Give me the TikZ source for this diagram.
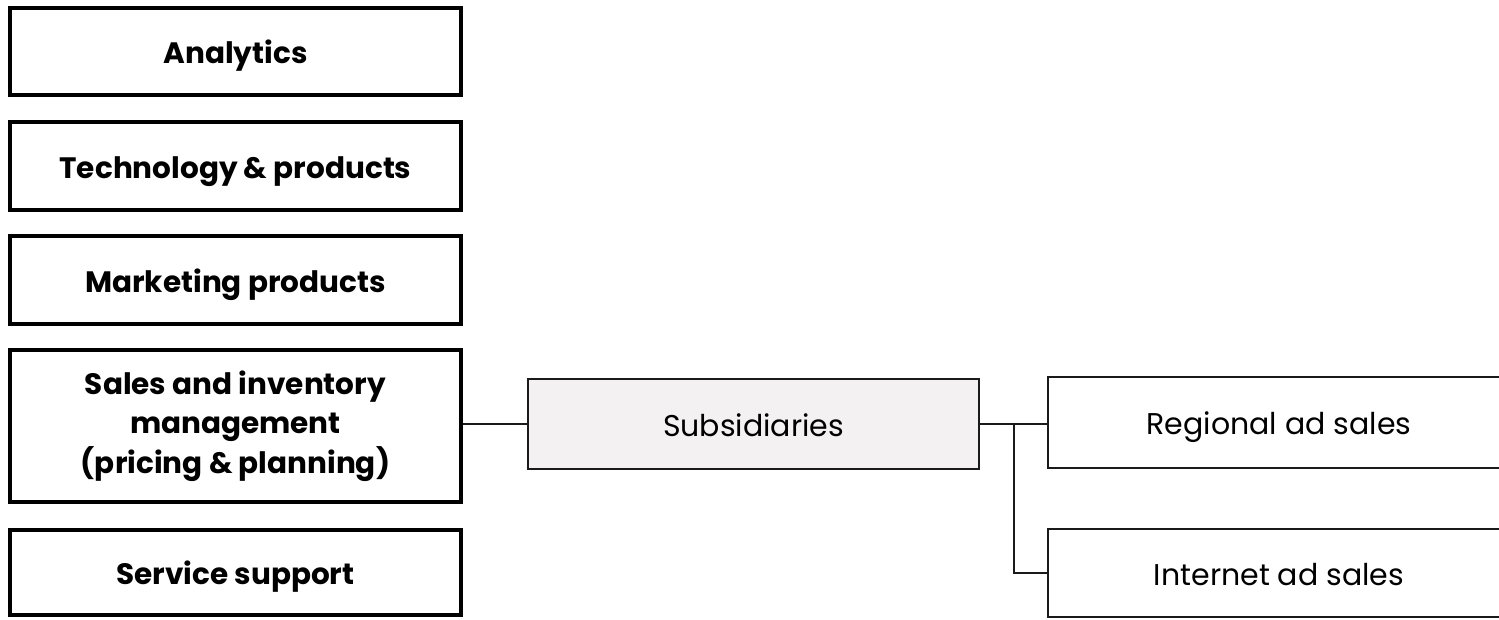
\documentclass[tikz,border=0pt]{standalone}
\usepackage{fontspec}
\setmainfont{Poppins}
\definecolor{subfill}{HTML}{F3F1F2}
\definecolor{edge}{HTML}{1A1A1A}
\begin{document}
\begin{tikzpicture}[x=1pt,y=-1pt,
  leftbox/.style={draw=black,line width=4.5pt,minimum width=451pt,inner sep=0pt,align=center,font=\fontsize{29.5}{39.5}\selectfont\bfseries},
  oneline/.style={text height=24.5pt,text depth=0pt},
  subbox/.style={draw=edge,line width=2pt,fill=subfill,minimum width=451pt,minimum height=90pt,inner sep=0pt,font=\fontsize{30}{38}\selectfont,oneline},
  rightbox/.style={draw=edge,line width=2pt,fill=white,minimum width=462pt,inner sep=0pt,font=\fontsize{30}{38}\selectfont,oneline},
  conn/.style={draw=edge,line width=2pt}]
\useasboundingbox (0,0) rectangle (1499,620);
\clip (0,0) rectangle (1499,620);
\node[leftbox,oneline,minimum height=87pt] (an) at (235.5,51.5) {Analytics};
\node[leftbox,oneline,minimum height=88pt] (tp) at (235.5,166) {Technology \& products};
\node[leftbox,oneline,minimum height=88pt] (mp) at (235.5,280) {Marketing products};
\node[leftbox,minimum height=152pt] (si) at (235.5,426) {Sales and inventory\\management\\(pricing \& planning)};
\node[leftbox,oneline,minimum height=85pt] (ss) at (235.5,572.5) {Service support};
\node[subbox] (sub) at (753.5,424) {Subsidiaries};
\node[rightbox,minimum height=91pt] (reg) at (1279,422.5) {Regional ad sales};
\node[rightbox,minimum height=88pt] (int) at (1279,573) {Internet ad sales};
\coordinate (j) at (1014,424);
\draw[conn] (si.east |- sub.west) -- (sub.west);
\draw[conn] (sub.east) -- (reg.west |- sub.east);
\draw[conn] (j) |- (int.west);
\end{tikzpicture}
\end{document}
